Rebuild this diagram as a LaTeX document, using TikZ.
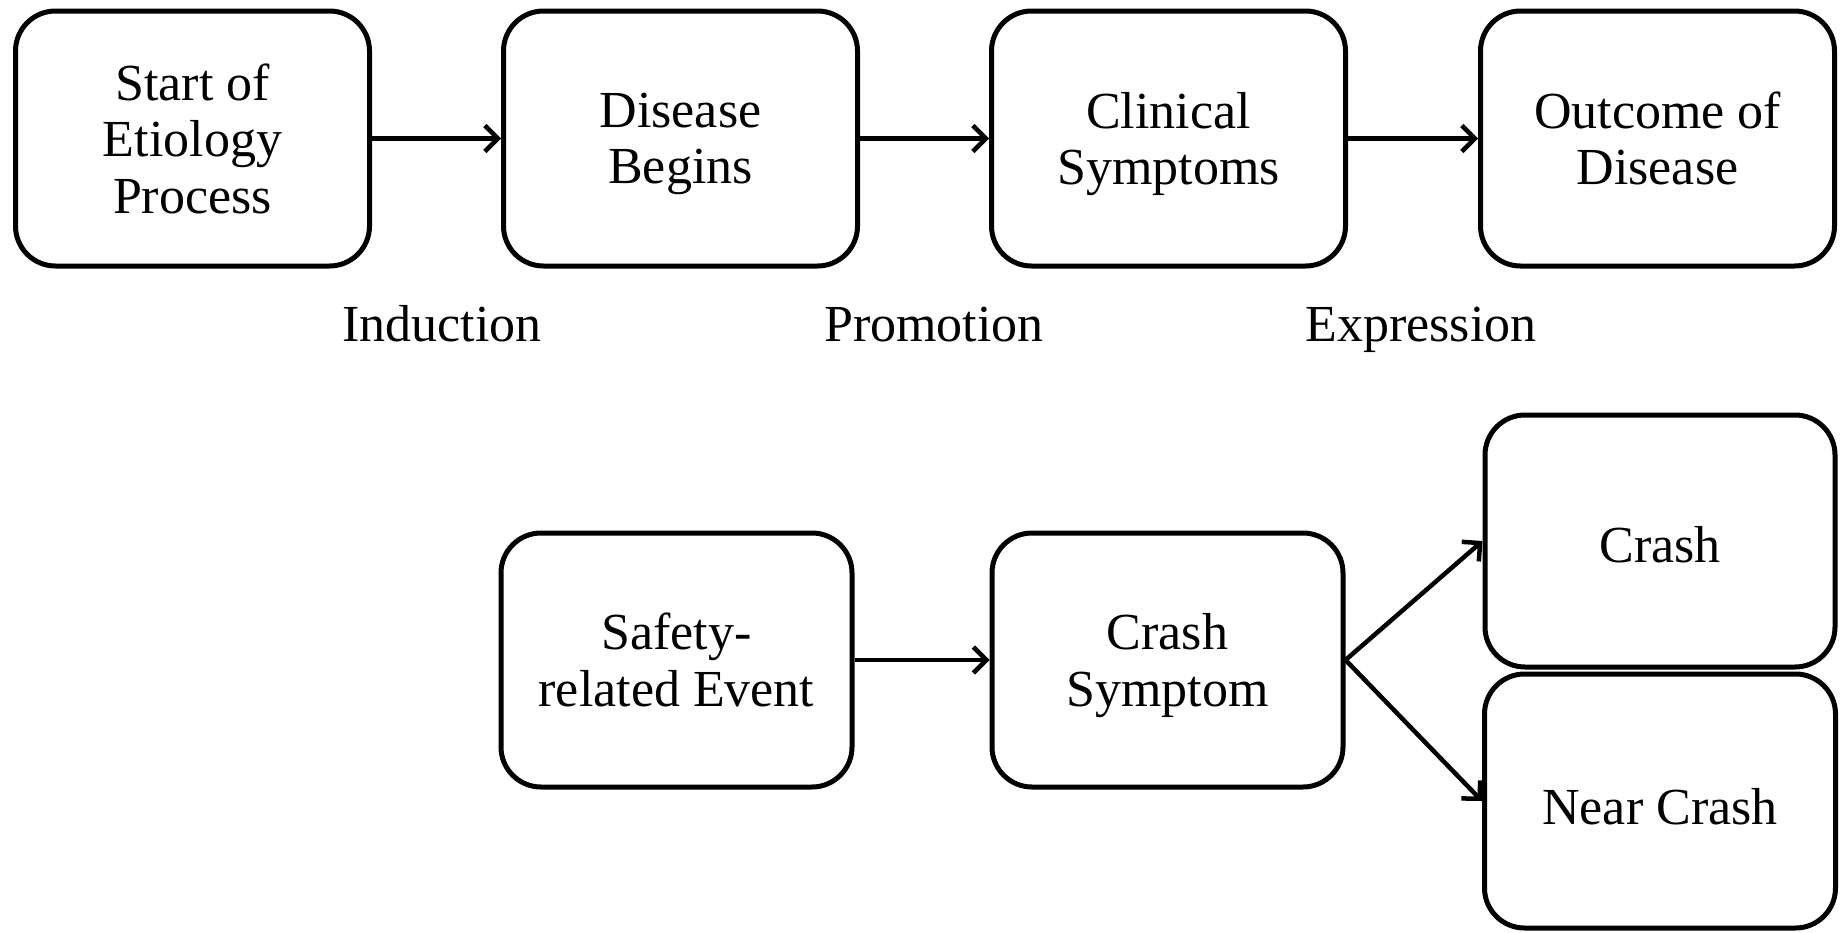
\documentclass[tikz,border=0pt]{standalone}
\usepackage{fontspec}
\setmainfont{Liberation Serif}
\usetikzlibrary{arrows.meta}
\newcommand{\nodepth}[1]{\raisebox{0pt}[\height][0pt]{#1}}
\begin{document}
\begin{tikzpicture}[x=1pt,y=-1pt,
  stepbox/.style={draw=black, line width=5pt, rounded corners=40pt, fill=white,
    align=center, inner sep=0pt, font=\fontsize{52}{56.5}\selectfont},
  topbox/.style={stepbox, minimum width=354pt, minimum height=255pt},
  lowbox/.style={stepbox, minimum width=351pt, minimum height=254pt},
  phase/.style={font=\fontsize{52}{56.5}\selectfont, inner sep=0pt, anchor=base},
  conn/.style={line width=4.5pt, -{Straight Barb[length=13pt,width=26pt]}}
]
\useasboundingbox (0,0) rectangle (1847,932);
% top row
\node[topbox] (a) at (192.5,138.5) {Start of\\Etiology\\Process};
\node[topbox] (b) at (680.5,138.5) {Disease\\\nodepth{Begins}};
\node[topbox] (c) at (1168.5,138.5) {Clinical\\\nodepth{Symptoms}};
\node[topbox] (d) at (1657.5,138.5) {Outcome of\\Disease};
\draw[conn] (a) -- (b);
\draw[conn] (b) -- (c);
\draw[conn] (c) -- (d);
\node[phase] (ind) at (442,341) {Induction};
\node[phase] (pro) at (934,341) {Promotion};
\node[phase] (exp) at (1421,341) {Expression};
% bottom row
\node[lowbox] (s) at (676.5,660) {Safety-\\related Event};
\node[lowbox] (cs) at (1167.5,660) {Crash\\\nodepth{Symptom}};
\node[stepbox, minimum width=350pt, minimum height=252pt, text height=42pt, text depth=0pt] (cr) at (1660,541) {Crash};
\node[stepbox, minimum width=351pt, minimum height=254pt, text height=46pt, text depth=0pt] (nc) at (1660,801) {Near Crash};
\draw[conn] (s) -- (cs);
\draw[conn] (cs.east) -- (cr.west);
\draw[conn] (cs.east) -- (nc.west);
\end{tikzpicture}
\end{document}
